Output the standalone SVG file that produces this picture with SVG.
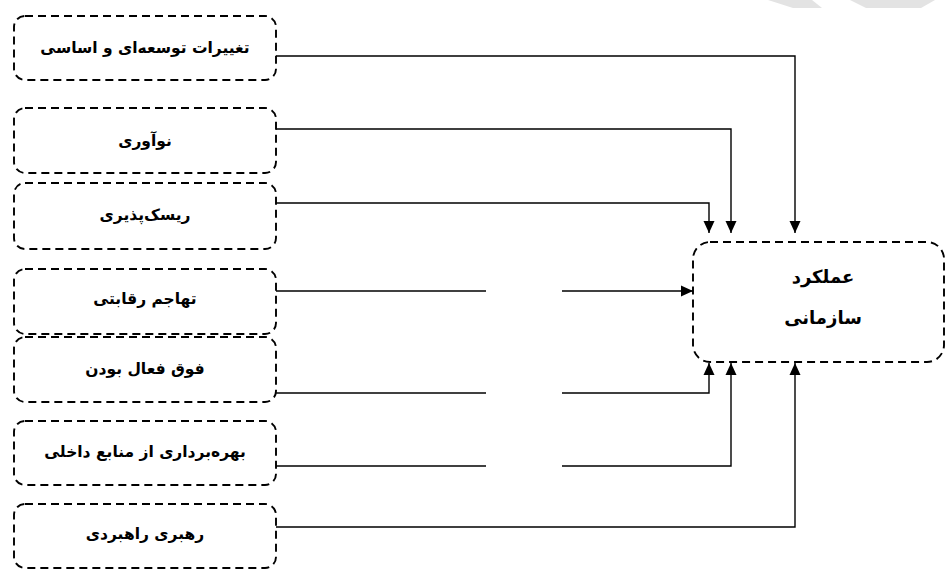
<svg xmlns="http://www.w3.org/2000/svg" width="947" height="575" viewBox="0 0 947 575">
<style>
.box{fill:#fff;stroke:#000;stroke-width:1.9;stroke-dasharray:8 5}
.lbl{font-family:"DejaVu Sans",sans-serif;font-weight:bold;font-size:15.5px;fill:#000;text-anchor:middle}
.big{font-size:18px}
.ln{fill:none;stroke:#000;stroke-width:1.4}
.wm{fill:#e3e3e3}
</style>
<defs>
<marker id="ah" viewBox="0 0 12 12" refX="12" refY="6" markerWidth="12" markerHeight="12" markerUnits="userSpaceOnUse" orient="auto">
<path d="M0,0.5 L12,6 L0,11.5 Z" fill="#000"/>
</marker>
</defs>
<g id="watermark">
<polygon class="wm" points="768,0 812,0 822,8 793,8"/>
<polygon class="wm" points="850,0 935,0 921,8 866,8"/>
</g>
<g id="connectors">
<polyline class="ln" points="276,56 795,56 795,233" marker-end="url(#ah)"/>
<polyline class="ln" points="276,129 731,129 731,233" marker-end="url(#ah)"/>
<polyline class="ln" points="276,203 709,203 709,233" marker-end="url(#ah)"/>
<line class="ln" x1="276" y1="291" x2="486" y2="291"/>
<line class="ln" x1="562" y1="291" x2="693" y2="291" marker-end="url(#ah)"/>
<line class="ln" x1="276" y1="393" x2="486" y2="393"/>
<polyline class="ln" points="562,393 709,393 709,363" marker-end="url(#ah)"/>
<line class="ln" x1="276" y1="466" x2="486" y2="466"/>
<polyline class="ln" points="562,466 731,466 731,363" marker-end="url(#ah)"/>
<polyline class="ln" points="276,527 795,527 795,363" marker-end="url(#ah)"/>
</g>
<g id="n1"><rect class="box" x="14" y="16" width="262" height="64" rx="11"/><text class="lbl" x="145" y="53" direction="rtl">تغییرات توسعه‌ای و اساسی</text></g>
<g id="n2"><rect class="box" x="14" y="108" width="262" height="65" rx="11"/><text class="lbl" x="145" y="146" direction="rtl">نوآوری</text></g>
<g id="n3"><rect class="box" x="14" y="183" width="262" height="66" rx="11"/><text class="lbl" x="145" y="220" direction="rtl">ریسک‌پذیری</text></g>
<g id="n4"><rect class="box" x="14" y="269" width="262" height="65" rx="11"/><text class="lbl" x="145" y="304" direction="rtl">تهاجم رقابتی</text></g>
<g id="n5"><rect class="box" x="14" y="337" width="262" height="65" rx="11"/><text class="lbl" x="145" y="374" direction="rtl">فوق فعال بودن</text></g>
<g id="n6"><rect class="box" x="14" y="421" width="262" height="64" rx="11"/><text class="lbl" x="145" y="457" direction="rtl">بهره‌برداری از منابع داخلی</text></g>
<g id="n7"><rect class="box" x="14" y="504" width="262" height="64" rx="11"/><text class="lbl" x="145" y="539" direction="rtl">رهبری راهبردی</text></g>
<g id="target"><rect class="box" x="693" y="242" width="251" height="120" rx="17"/><text class="lbl big" x="823" y="283" direction="rtl">عملکرد</text><text class="lbl big" x="823" y="324" direction="rtl">سازمانی</text></g>
</svg>
